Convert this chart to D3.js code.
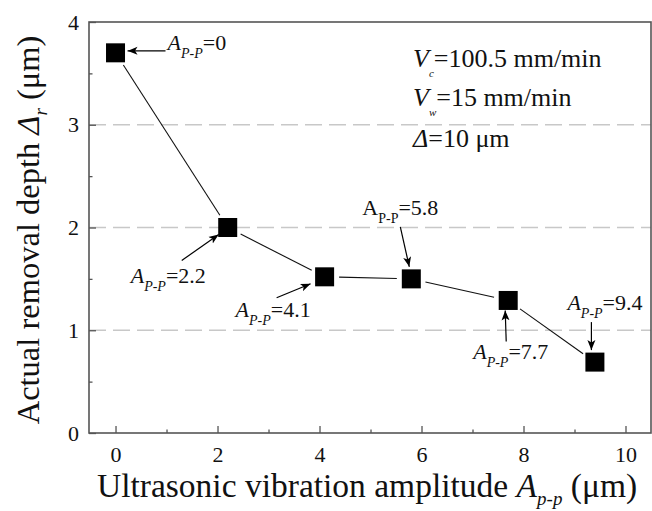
<!DOCTYPE html>
<html>
<head>
<meta charset="utf-8">
<script src="https://cdn.jsdelivr.net/npm/d3@7"></script>
<style>
  html, body { margin: 0; padding: 0; background: #fff; }
  svg { display: block; }
  text { font-family: "Liberation Serif", "Times New Roman", serif; fill: #111; }
</style>
</head>
<body>
<svg id="chart" width="652" height="511"></svg>
<script>
// ---- data ----
const amplitudes = [0, 2.2, 4.1, 5.8, 7.7, 9.4];
const depths = [3.70, 2.00, 1.52, 1.50, 1.29, 0.69];
const xTicks = [0, 2, 4, 6, 8, 10];
const xMinorTicks = [1, 3, 5, 7, 9];
const yTicks = [0, 1, 2, 3, 4];
const yMinorTicks = [0.5, 1.5, 2.5, 3.5];
const gridValues = [1, 2, 3];
const pointLabels = ["0", "2.2", "4.1", "5.8", "7.7", "9.4"];
const labelItalic = [true, true, true, false, true, true];
const conditionLines = [
  { sym: "V", sub: "c", rest: "=100.5 mm/min" },
  { sym: "V", sub: "w", rest: "=15 mm/min" },
  { sym: "\u0394", sub: "", rest: "=10 \u03bcm" }
];
// annotation layout (px offsets relative to the point)
const labelOffsets = [[52, -2.5], [-97, 55], [-89, 40], [-49, -64], [-35, 59], [-27.5, -52]];
const arrowOffsets = [
  [[50, -2], [12, -2]],
  [[-46, 33], [-9, 7]],
  [[-48, 21], [-14, 7]],
  [[-11, -52], [-2, -12]],
  [[-2, 41], [-3, 10]],
  [[-3.5, -40], [-3.5, -12]]
];

const svg = d3.select("#chart");
const L = 89, R = 651, T = 22, B = 433;
const x = d3.scaleLinear().domain([-0.52, 10.5]).range([L, R]);
const y = d3.scaleLinear().domain([0, 4]).range([B, T]);
const axisColor = "#555";

// defs: arrowhead
svg.append("defs").append("marker")
  .attr("id", "arrow").attr("viewBox", "0 0 10 10")
  .attr("refX", 10).attr("refY", 5)
  .attr("markerWidth", 10).attr("markerHeight", 10)
  .attr("markerUnits", "userSpaceOnUse")
  .attr("orient", "auto")
  .append("path").attr("d", "M0,1 L10,5 L0,9 L2.5,5 Z").attr("fill", "#000");

// grid lines
svg.append("g").selectAll("line").data(gridValues).join("line")
  .attr("x1", L).attr("x2", R)
  .attr("y1", d => y(d)).attr("y2", d => y(d))
  .attr("stroke", "#c8c8c8").attr("stroke-width", 1.5)
  .attr("stroke-dasharray", "17,7");

// axes
const yAxis = d3.axisLeft(y).tickValues(yTicks).tickFormat(d3.format("d"))
  .tickSizeInner(-7).tickSizeOuter(0).tickPadding(10);
const gy = svg.append("g").attr("transform", `translate(${L},0)`).call(yAxis);
const yMinor = d3.axisLeft(y).tickValues(yMinorTicks).tickFormat("")
  .tickSizeInner(-3.5).tickSizeOuter(0);
const gym = svg.append("g").attr("transform", `translate(${L},0)`).call(yMinor);

const xAxis = d3.axisBottom(x).tickValues(xTicks).tickFormat(d3.format("d"))
  .tickSizeInner(-7).tickSizeOuter(0).tickPadding(13);
const gx = svg.append("g").attr("transform", `translate(0,${B})`).call(xAxis);
const xMinor = d3.axisBottom(x).tickValues(xMinorTicks).tickFormat("")
  .tickSizeInner(-3.5).tickSizeOuter(0);
const gxm = svg.append("g").attr("transform", `translate(0,${B})`).call(xMinor);

[gy, gym, gx, gxm].forEach(g => {
  g.select(".domain").remove();
  g.selectAll(".tick line").attr("stroke", axisColor).attr("stroke-width", 1.3);
  g.selectAll(".tick text").attr("font-size", 22)
    .attr("font-family", "Liberation Serif, serif").attr("fill", "#111");
});

// frame
svg.append("rect").attr("x", L).attr("y", T)
  .attr("width", R - L).attr("height", B - T)
  .attr("fill", "none").attr("stroke", axisColor).attr("stroke-width", 1.6);

// points data
const pts = amplitudes.map((a, i) => ({ a, d: depths[i], px: x(a), py: y(depths[i]), i }));

// connecting line segments with gaps
const gap = 14.5;
const segs = d3.pairs(pts).map(([p, q]) => {
  const dx = q.px - p.px, dy = q.py - p.py, len = Math.hypot(dx, dy);
  const ux = dx / len, uy = dy / len;
  return { x1: p.px + ux * gap, y1: p.py + uy * gap, x2: q.px - ux * gap, y2: q.py - uy * gap };
});
svg.append("g").selectAll("line").data(segs).join("line")
  .attr("x1", d => d.x1).attr("y1", d => d.y1).attr("x2", d => d.x2).attr("y2", d => d.y2)
  .attr("stroke", "#111").attr("stroke-width", 1.1);

// markers
const ms = 19;
svg.append("g").selectAll("rect").data(pts).join("rect")
  .attr("x", d => d.px - ms / 2).attr("y", d => d.py - ms / 2)
  .attr("width", ms).attr("height", ms).attr("fill", "#000");

// annotation arrows
svg.append("g").selectAll("line").data(pts).join("line")
  .attr("x1", d => d.px + arrowOffsets[d.i][0][0]).attr("y1", d => d.py + arrowOffsets[d.i][0][1])
  .attr("x2", d => d.px + arrowOffsets[d.i][1][0]).attr("y2", d => d.py + arrowOffsets[d.i][1][1])
  .attr("stroke", "#000").attr("stroke-width", 1.2)
  .attr("marker-end", "url(#arrow)");

// annotation labels
const lab = svg.append("g").selectAll("text").data(pts).join("text")
  .attr("x", d => d.px + labelOffsets[d.i][0])
  .attr("y", d => d.py + labelOffsets[d.i][1])
  .attr("font-size", 22);
lab.append("tspan").text("A").attr("font-style", d => labelItalic[d.i] ? "italic" : "normal");
lab.append("tspan").text("P-P").attr("font-size", 14).attr("dy", 8)
  .attr("font-style", d => labelItalic[d.i] ? "italic" : "normal");
lab.append("tspan").text(d => "=" + pointLabels[d.i]).attr("dy", -8);

// condition text (top right)
const condBase = [67, 105.5, 147];
const cond = svg.append("g").selectAll("text").data(conditionLines).join("text")
  .attr("x", 413).attr("y", (d, i) => condBase[i]).attr("font-size", 26);
cond.append("tspan").text(d => d.sym).attr("font-style", "italic");
cond.append("tspan").text(d => d.sub).attr("font-size", 11).attr("font-style", "italic")
  .attr("dy", d => d.sub ? 10 : 0);
cond.append("tspan").text(d => d.rest).attr("dy", d => d.sub ? -10 : 0);

// axis titles
const xt = svg.append("text").attr("x", 97).attr("y", 497).attr("font-size", 33.5);
xt.append("tspan").text("Ultrasonic vibration amplitude ");
xt.append("tspan").text("A").attr("font-style", "italic");
xt.append("tspan").text("p-p").attr("font-style", "italic").attr("font-size", 19).attr("dy", 8);
xt.append("tspan").text(" (\u03bcm)").attr("dy", -8);

const yt = svg.append("text").attr("transform", "translate(39,230) rotate(-90)")
  .attr("text-anchor", "middle").attr("font-size", 32.5);
yt.append("tspan").text("Actual removal depth ");
yt.append("tspan").text("\u0394").attr("font-style", "italic");
yt.append("tspan").text("r").attr("font-style", "italic").attr("font-size", 19).attr("dy", 8);
yt.append("tspan").text(" (\u03bcm)").attr("dy", -8);
</script>
</body>
</html>
